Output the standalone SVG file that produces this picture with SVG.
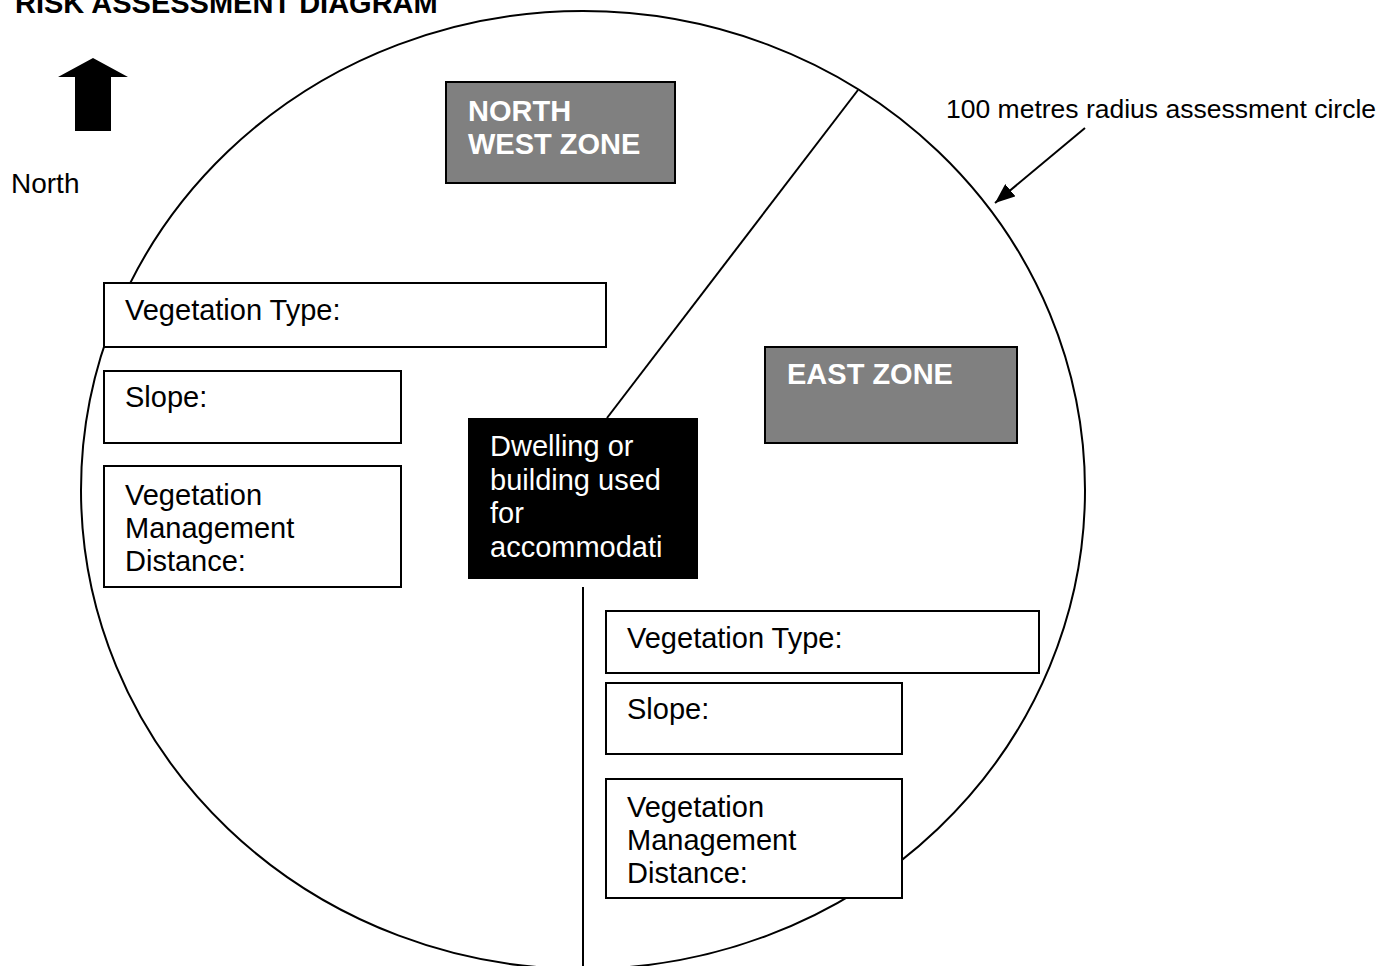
<svg xmlns="http://www.w3.org/2000/svg" width="1380" height="966" viewBox="0 0 1380 966">
<defs>
<style>
text{font-family:"Liberation Sans",Arial,sans-serif;fill:#000}
.t{font-size:29px}
.b{font-weight:bold}
.w{fill:#fff}
.box{fill:#fff;stroke:#000;stroke-width:2}
.zone{fill:#808080;stroke:#000;stroke-width:2}
.ln{stroke:#000;stroke-width:2;fill:none}
</style>
<marker id="ah" viewBox="0 0 20 16" refX="20" refY="8" markerWidth="20" markerHeight="16" markerUnits="userSpaceOnUse" orient="auto">
<path d="M0,0 L20,8 L0,16 Z" fill="#000"/>
</marker>
</defs>
<rect width="1380" height="966" fill="#fff"/>
<g id="title"><text x="15" y="13" class="b" font-size="29">RISK ASSESSMENT DIAGRAM</text></g>
<g id="north-arrow">
<polygon points="93,58 128,77 111,77 111,131 75,131 75,77 58,77" fill="#000"/>
<text x="11" y="193" font-size="28">North</text>
</g>
<g id="assessment-circle"><ellipse cx="583" cy="490" rx="502" ry="479" class="ln"/></g>
<g id="connectors">
<line x1="607" y1="418" x2="858" y2="90" class="ln"/>
<line x1="583" y1="587" x2="583" y2="966" class="ln"/>
<line x1="1085" y1="128" x2="995" y2="203" class="ln" marker-end="url(#ah)"/>
</g>
<g id="circle-label"><text x="946" y="118" font-size="26.5">100 metres radius assessment circle</text></g>
<g id="nw-zone">
<rect x="446" y="82" width="229" height="101" class="zone"/>
<text x="468" y="121" class="t b w">NORTH</text>
<text x="468" y="154" class="t b w">WEST ZONE</text>
</g>
<g id="east-zone">
<rect x="765" y="347" width="252" height="96" class="zone"/>
<text x="787" y="384" class="t b w">EAST ZONE</text>
</g>
<g id="dwelling">
<rect x="468" y="418" width="230" height="161" fill="#000"/>
<text x="490" y="456" class="t w">Dwelling or</text>
<text x="490" y="490" class="t w">building used</text>
<text x="490" y="523" class="t w">for</text>
<text x="490" y="557" class="t w">accommodati</text>
</g>
<g id="nw-veg-type">
<rect x="104" y="283" width="502" height="64" class="box"/>
<text x="125" y="320" class="t">Vegetation Type:</text>
</g>
<g id="nw-slope">
<rect x="104" y="371" width="297" height="72" class="box"/>
<text x="125" y="407" class="t">Slope:</text>
</g>
<g id="nw-vmd">
<rect x="104" y="466" width="297" height="121" class="box"/>
<text x="125" y="505" class="t">Vegetation</text>
<text x="125" y="538" class="t">Management</text>
<text x="125" y="571" class="t">Distance:</text>
</g>
<g id="e-veg-type">
<rect x="606" y="611" width="433" height="62" class="box"/>
<text x="627" y="648" class="t">Vegetation Type:</text>
</g>
<g id="e-slope">
<rect x="606" y="683" width="296" height="71" class="box"/>
<text x="627" y="719" class="t">Slope:</text>
</g>
<g id="e-vmd">
<rect x="606" y="779" width="296" height="119" class="box"/>
<text x="627" y="817" class="t">Vegetation</text>
<text x="627" y="850" class="t">Management</text>
<text x="627" y="883" class="t">Distance:</text>
</g>
</svg>
